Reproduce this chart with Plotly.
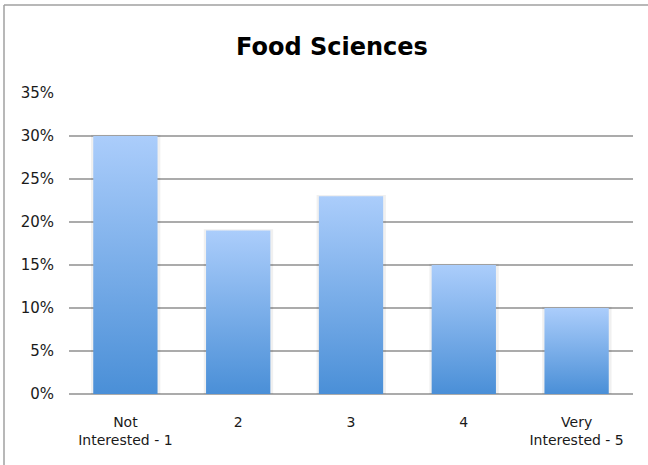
import plotly.graph_objects as go

categories = ["Not<br>Interested - 1", "2", "3", "4", "Very<br>Interested - 5"]
values = [30, 19, 23, 15, 10]
y_ticks = [0, 5, 10, 15, 20, 25, 30, 35]
y_ticklabels = [f"{v}%" for v in y_ticks]

BAR_WIDTH = 0.57
TOP_COLOR = "#abcdfb"
BOTTOM_COLOR = "#4a8fd7"
FONT = "'DejaVu Sans', sans-serif"

fig = go.Figure()
for i, v in enumerate(values):
    x0, x1 = i - BAR_WIDTH / 2, i + BAR_WIDTH / 2
    # faint shadow
    fig.add_trace(go.Scatter(
        x=[x0 - 0.02, x1 + 0.025, x1 + 0.025, x0 - 0.02, x0 - 0.02],
        y=[0, 0, v + 0.15, v + 0.15, 0],
        fill="toself", mode="none", fillcolor="rgba(0,0,0,0.06)",
        hoverinfo="skip", showlegend=False))
    fig.add_trace(go.Scatter(
        x=[x0, x1, x1, x0, x0],
        y=[0, 0, v, v, 0],
        fill="toself", mode="none",
        fillgradient=dict(type="vertical", start=0, stop=v,
                          colorscale=[[0, BOTTOM_COLOR], [1, TOP_COLOR]]),
        hovertemplate=f"{categories[i].replace('<br>', ' ')}: {v}%<extra></extra>",
        showlegend=False))

W, H = 648, 465
L, R, T, B = 69, 15, 93, 71
pw, ph = W - L - R, H - T - B


def px_x(p):
    return (p - L) / pw


def px_y(p):
    return (T + ph - p) / ph


fig.update_layout(
    width=W, height=H,
    margin=dict(l=L, r=R, t=T, b=B),
    paper_bgcolor="white", plot_bgcolor="white",
    font=dict(family=FONT, size=14, color="#1a1a1a"),
    title=dict(text="<b>Food Sciences</b>", x=332 / W, xanchor="center",
               y=1 - 47 / H, yanchor="middle", yref="container",
               font=dict(size=24, color="black", family=FONT)),
    xaxis=dict(range=[-0.5, 4.5], tickvals=list(range(len(categories))), ticktext=categories,
               showgrid=False, zeroline=False, showline=False, ticks="",
               tickfont=dict(size=14), ticklabelstandoff=18, fixedrange=True),
    yaxis=dict(range=[0, 35], tickvals=y_ticks, ticktext=y_ticklabels,
               showgrid=True, gridcolor="#ababab", gridwidth=1.5,
               zeroline=True, zerolinecolor="#ababab", zerolinewidth=1.5,
               showline=False, ticks="", tickfont=dict(size=15),
               ticklabelstandoff=14, fixedrange=True),
)

# outer chart border (left and top edges only are visible)
border = dict(color="#a0a0a0", width=1.5)
fig.add_shape(type="line", xref="paper", yref="paper", layer="above",
              x0=px_x(4), x1=px_x(4), y0=px_y(H + 2), y1=px_y(5), line=border)
fig.add_shape(type="line", xref="paper", yref="paper", layer="above",
              x0=px_x(4), x1=px_x(W + 2), y0=px_y(5), y1=px_y(5), line=border)

fig.write_html("out.html", config={"displayModeBar": False},
               post_script="document.body.style.margin='0';document.body.style.overflow='hidden';")
